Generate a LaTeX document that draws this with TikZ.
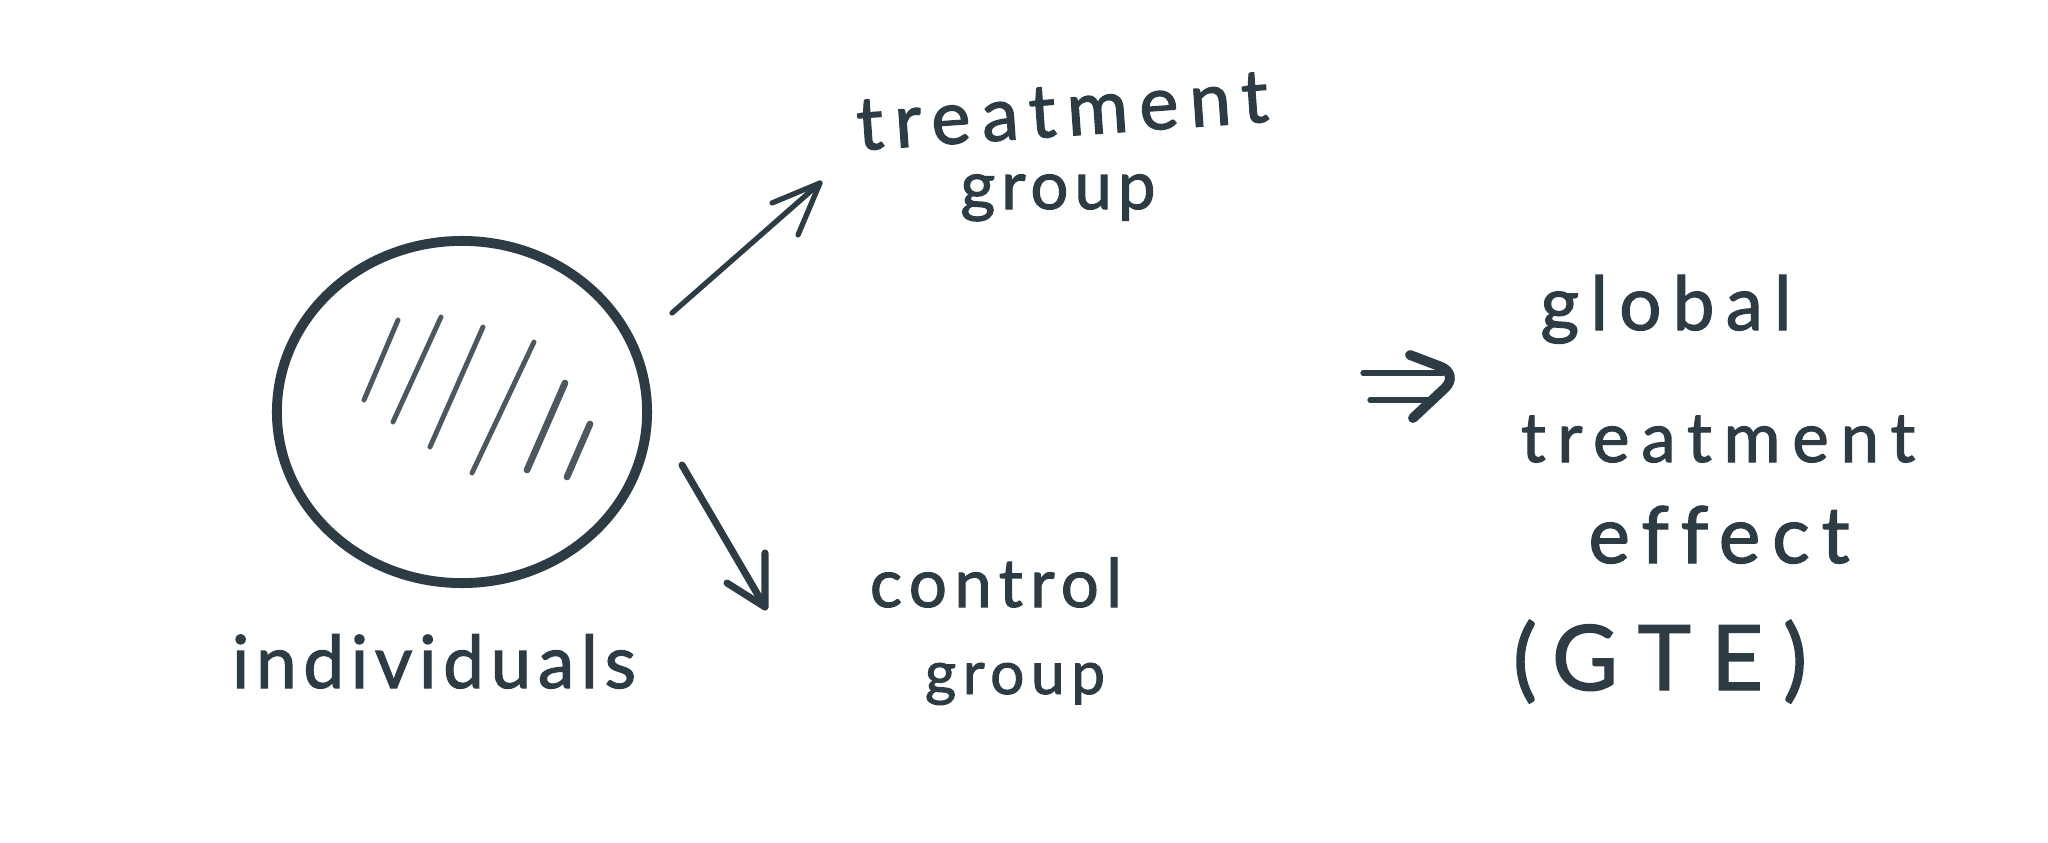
\documentclass[tikz,border=0pt]{standalone}
\usepackage{fontspec}
\usepackage{graphicx}
\usetikzlibrary{shapes.geometric}
\newfontfamily\hand[Ligatures=NoCommon,FakeBold=1.6]{Lato}
\newcommand\hw[3]{\resizebox{#1}{!}{\hand\fontsize{20}{24}\selectfont\addfontfeature{LetterSpace=#2}#3}}
\definecolor{ink}{HTML}{2C3B44}
\begin{document}
\begin{tikzpicture}[x=0.01cm,y=-0.01cm,
  lbl/.style={anchor=base,inner sep=0pt,text=ink},
  stroke/.style={draw=ink,line width=1.5pt,line cap=round,line join=round},
  hatch/.style={draw=ink!85,line width=1.4pt,line cap=round}]
\useasboundingbox[fill=white] (0,0) rectangle (2048,842);
% circle of individuals
\node[ellipse,draw=ink,line width=2.8pt,minimum width=3.7cm,minimum height=3.42cm,inner sep=0pt] (ind) at (462,412) {};
\draw[hatch] (398,320) -- (364,400);
\draw[hatch] (441,317) -- (393,422);
\draw[hatch] (483,327) -- (430,447);
\draw[hatch] (534,342) -- (472,473);
\draw[hatch,line width=1.9pt] (565,383) -- (527,470);
\draw[hatch,line width=1.9pt] (590,424) -- (567,477);
\node[lbl] (lind) at (434,688) {\hw{4.04cm}{9}{individuals}};
% treatment group
\node[lbl,rotate=4] (t1) at (1064,136) {\hw{4.12cm}{15}{treatment}};
\node[lbl] (t2) at (1058,209) {\hw{1.95cm}{9}{group}};
% control group
\node[lbl] (c1) at (996,607) {\hw{2.52cm}{11}{control}};
\node[lbl] (c2) at (1015,694) {\hw{1.80cm}{11}{group}};
% arrows
\coordinate (a1s) at (672,313);
\coordinate (a1e) at (820,183);
\coordinate (a1b1) at (772,203);
\coordinate (a1b2) at (798,235);
\draw[stroke] (a1s) -- (a1e);
\draw[stroke] (a1b1) -- (a1e) -- (a1b2);
\coordinate (a2s) at (682,465);
\coordinate (a2e) at (765,607);
\coordinate (a2b1) at (727,583);
\coordinate (a2b2) at (765,553);
\draw[stroke,line width=2pt] (a2s) -- (a2e);
\draw[stroke,line width=2pt] (a2b1) -- (a2e) -- (a2b2);
% implies
\coordinate (i1s) at (1363,373);
\coordinate (i1e) at (1443,373);
\coordinate (i2s) at (1370,400);
\coordinate (i2e) at (1430,400);
\coordinate (ic1) at (1410,355);
\coordinate (ic2) at (1460,374);
\coordinate (ic3) at (1413,418);
\draw[stroke] (i1s) -- (i1e);
\draw[stroke] (i2s) -- (i2e);
\draw[stroke,line width=2.8pt,rounded corners=6pt] (ic1) -- (ic2) -- (ic3);
% GTE
\node[lbl] (g1) at (1666,330) {\hw{2.51cm}{15}{global}};
\node[lbl] (g2) at (1718,462) {\hw{3.94cm}{17}{treatment}};
\node[lbl] (g3) at (1719,563) {\hw{2.61cm}{15}{effect}};
\node[lbl] (g4) at (1660,690) {\hw{2.94cm}{22}{(\,GTE)}};
\end{tikzpicture}
\end{document}
